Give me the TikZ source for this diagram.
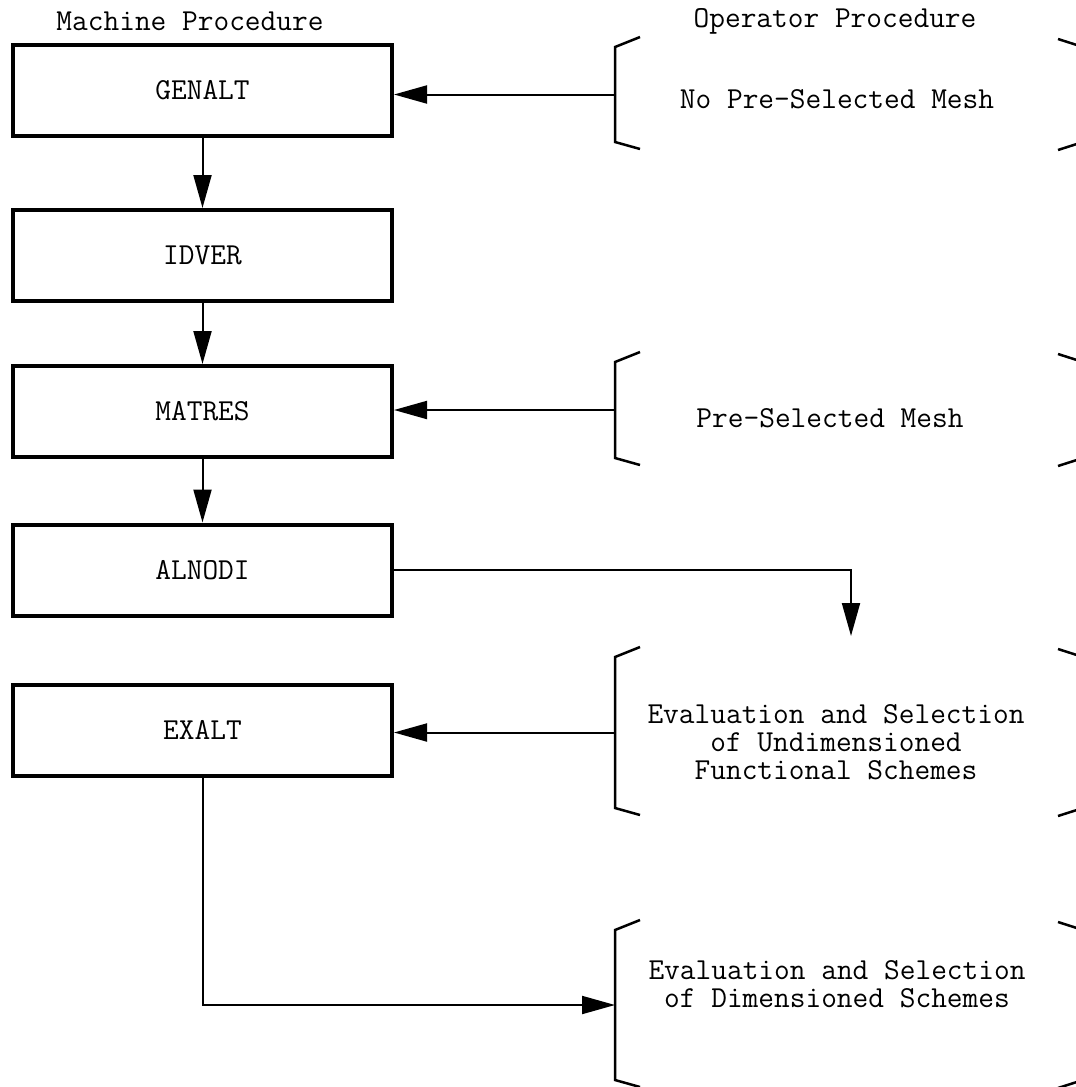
\documentclass[tikz,border=0pt]{standalone}
\usetikzlibrary{arrows.meta}
\begin{document}
\begin{tikzpicture}[
  x=1pt, y=-1pt,
  txt/.style={font=\ttfamily\fontsize{30.5}{28}\selectfont, align=center, inner sep=0pt},
  proc/.style={txt, draw, line width=4pt, minimum width=379pt, minimum height=91pt},
  oper/.style={minimum width=468pt, inner sep=0pt, outer sep=0pt},
  brk/.style={line width=2.5pt, line join=miter},
  flow/.style={line width=2pt, -{Triangle[length=33pt,width=18pt]}},
]
\clip (0,0) rectangle (1076,1087);

% column headings
\node[txt] (hmach) at (190,21) {Machine Procedure};
\node[txt] (hoper) at (835,21) {Operator Procedure};

% machine procedure chain
\node[proc] (genalt) at (202.5,90)    {GENALT};
\node[proc] (idver)  at (202.5,255.5) {IDVER};
\node[proc] (matres) at (202.5,411.5) {MATRES};
\node[proc] (alnodi) at (202.5,570)   {ALNODI};
\node[proc] (exalt)  at (202.5,730)   {EXALT};

% operator procedure bracketed blocks
\node[oper, minimum height=95pt]  (b1) at (849,94.5) {};
\node[oper, minimum height=96pt]  (b2) at (849,410)  {};
\node[oper, minimum height=151pt] (b3) at (849,732.5) {};
\node[oper, minimum height=150pt] (b4) at (849,1005) {};

\node[txt] (t1) at (837,99)  {No Pre-Selected Mesh};
\node[txt] (t2) at (830,418) {Pre-Selected Mesh};
\node[txt] (t3) at (836,742) {Evaluation and Selection\\of Undimensioned\\Functional Schemes};
\node[txt] (t4) at (837,984) {Evaluation and Selection\\of Dimensioned Schemes};

\newcommand\opbracket[1]{%
  \draw[brk] ([shift={(25,-10)}]#1.north west) -- (#1.north west)
             -- (#1.south west) -- ([shift={(25,7)}]#1.south west);
  \draw[brk] ([shift={(-25,-8)}]#1.north east) -- (#1.north east)
             -- (#1.south east) -- ([shift={(-25,8)}]#1.south east);
}
\opbracket{b1}
\opbracket{b2}
\opbracket{b3}
\opbracket{b4}

% flow between machine steps
\draw[flow] (genalt) -- (idver);
\draw[flow] (idver)  -- (matres);
\draw[flow] (matres) -- (alnodi);

% operator inputs
\draw[flow] (b1.west) -- (b1.west -| genalt.east);
\draw[flow] (b2.west) -- (b2.west -| matres.east);
\draw[flow] (b3.west) -- (b3.west -| exalt.east);

% outputs to the operator
\coordinate (tipA) at (851,636);
\draw[flow] (alnodi.east) -| (tipA);
\draw[flow] (exalt.south) |- (b4.west);
\end{tikzpicture}
\end{document}
